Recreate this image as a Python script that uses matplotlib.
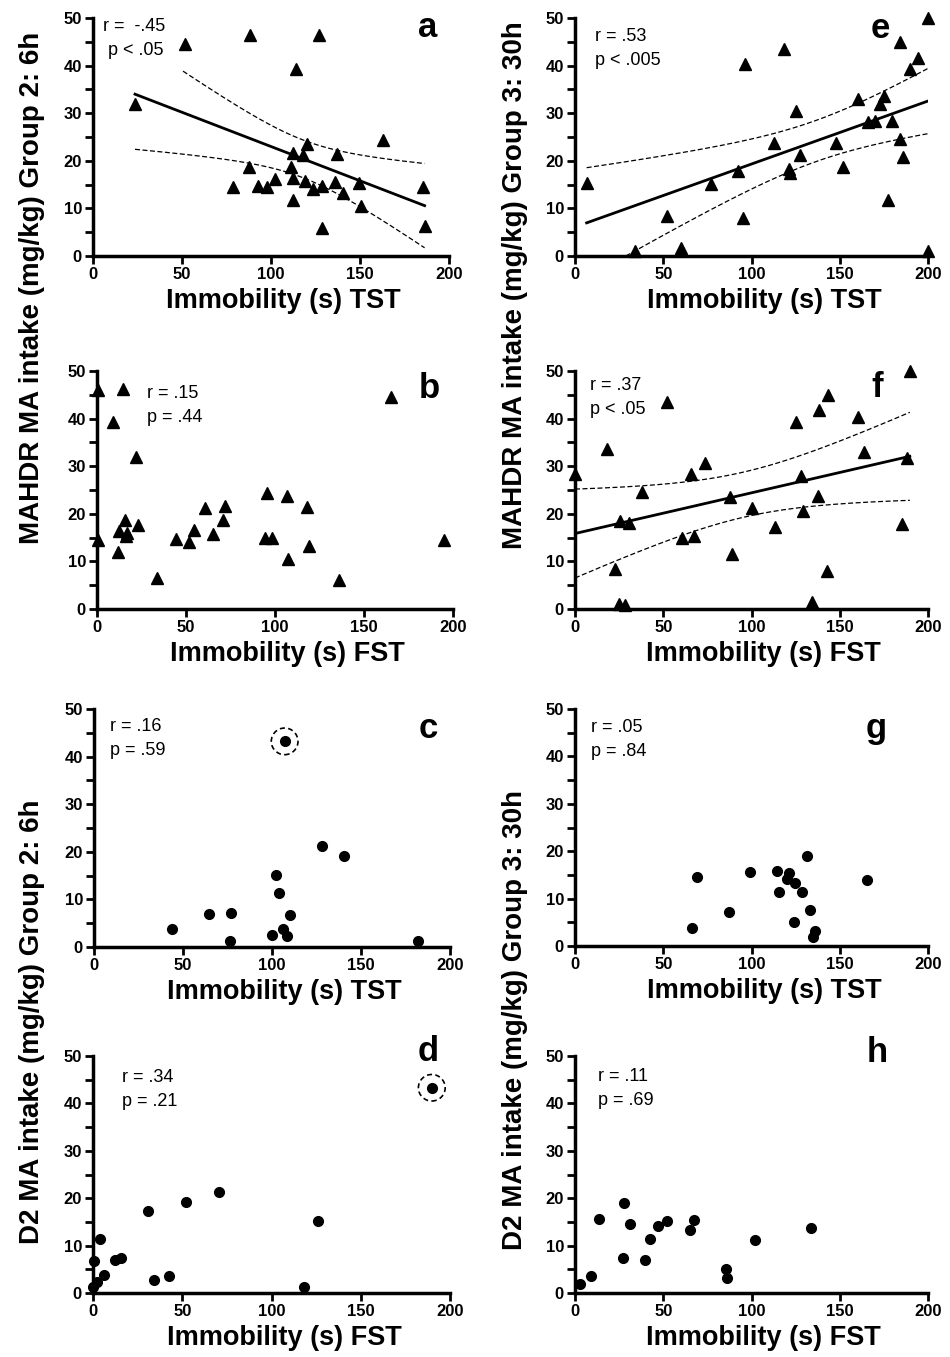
import numpy as np
import matplotlib
matplotlib.use("Agg")
import matplotlib.pyplot as plt
from matplotlib.patches import Ellipse
from matplotlib.ticker import MultipleLocator

plt.rcParams['font.family'] = ['Liberation Sans', 'DejaVu Sans']

# a: MAHDR MA intake, group 2 (6h) vs TST immobility
a_x = [23.6, 51.7, 88.2, 127, 113.9, 162.7, 120.4, 112.5, 118.2, 136.9, 87.5, 111.2, 78.5, 92.9,
       102.4, 97.6, 112.5, 119.1, 123.6, 128.5, 135.8, 140.3, 149.6, 112.2, 150.7, 128.7, 185.6, 186.3]
a_y = [31.9, 44.5, 46.4, 46.5, 39.3, 24.4, 23.5, 21.6, 21.2, 21.4, 18.6, 18.8, 14.6, 14.8,
       16.2, 14.4, 16.3, 15.8, 14.1, 14.8, 15.6, 13.2, 15.3, 11.8, 10.4, 5.9, 14.6, 6.4]

# b: MAHDR group 2 vs FST
b_x = [0.6, 14.6, 9.0, 22.1, 0.3, 12.4, 15.6, 11.8, 16.1, 16.9, 23.1, 33.8, 44.3, 51.8, 54.4,
       60.6, 65.3, 70.9, 71.9, 95.7, 94.4, 98.1, 106.9, 107.1, 117.8, 119.1, 136.2, 165.3, 194.7]
b_y = [46.1, 46.3, 39.3, 32.0, 14.4, 16.3, 18.6, 11.9, 15.3, 16.0, 17.7, 6.5, 14.7, 14.0, 16.5,
       21.2, 15.8, 18.8, 21.7, 24.4, 14.9, 14.9, 23.7, 10.5, 21.4, 13.2, 6.0, 44.6, 14.6]

# e: MAHDR group 3 (30h) vs TST
e_x = [6.6, 52, 60.2, 34, 77.2, 92.4, 95, 96.3, 118.6, 112.7, 125.4, 127.5, 121.2, 121.8, 147.7,
       151.7, 160.3, 166.2, 169.8, 172.6, 175.3, 179.8, 177.5, 184.1, 186, 184.1, 189.8, 194.5, 200, 199.8]
e_y = [15.4, 8.5, 1.6, 1.1, 15.1, 17.9, 8.0, 40.3, 43.5, 23.7, 30.5, 21.3, 18.2, 17.4, 23.8,
       18.6, 33.0, 28.2, 28.4, 31.9, 33.7, 28.3, 11.8, 24.6, 20.7, 45.0, 39.3, 41.7, 50, 1.1]

# f: MAHDR group 3 vs FST
f_x = [0, 18.1, 52, 22.4, 24.9, 28.6, 25.6, 30.5, 37.9, 60.7, 67.7, 65.8, 73.8, 87.7, 89.2,
       100, 113.1, 125.2, 128, 129.3, 134.2, 137.8, 138.5, 143.4, 143, 160.4, 163.6, 185.4, 188.2, 189.7]
f_y = [28.4, 33.7, 43.5, 8.4, 1.1, 0.9, 18.5, 18.0, 24.6, 14.9, 15.3, 28.3, 30.6, 23.6, 11.5,
       21.3, 17.3, 39.3, 28.0, 20.6, 1.4, 23.8, 41.8, 44.9, 8.0, 40.4, 33.0, 17.8, 31.8, 49.9]

# c: D2 MA intake, group 2 vs TST (first point is the circled outlier)
c_x = [107.1, 44.1, 64.7, 77.2, 76.3, 100, 102.1, 103.7, 106.2, 108.6, 110.3, 128, 140.4, 181.9]
c_y = [43.2, 3.8, 6.9, 7.2, 1.3, 2.5, 15.1, 11.4, 3.7, 2.3, 6.7, 21.3, 19.2, 1.3]

# d: D2 group 2 vs FST (first point is the circled outlier)
d_x = [189.8, 0, 2.2, 0.4, 3.7, 6, 12.1, 15.8, 30.7, 34.4, 42.8, 52.1, 70.5, 118.3, 126.1]
d_y = [43.3, 1.3, 2.3, 6.8, 11.3, 3.7, 6.9, 7.3, 17.3, 2.8, 3.5, 19.2, 21.4, 1.3, 15.1]

# g: D2 group 3 vs TST
g_x = [66.5, 69.1, 87.5, 99.3, 114.4, 115.7, 119.9, 121.2, 124.7, 124.2, 128.5, 131.3, 133.3, 136, 134.6, 165.4]
g_y = [3.7, 14.6, 7.1, 15.6, 15.8, 11.3, 14.2, 15.3, 13.2, 5.1, 11.4, 19.0, 7.5, 3.2, 1.9, 13.9]

# h: D2 group 3 vs FST
h_x = [2.8, 9.3, 13.6, 27, 27.6, 30.9, 39.5, 42.5, 47.2, 52.4, 64.9, 67.5, 85.7, 86.1, 101.8, 133.5]
h_y = [1.8, 3.6, 15.7, 7.3, 18.9, 14.6, 7.0, 11.4, 14.1, 15.2, 13.2, 15.5, 5.1, 3.1, 11.1, 13.8]

stats = {
    'a': ["r =  -.45", " p < .05"], 'b': ["r = .15", "p = .44"],
    'c': ["r = .16", "p = .59"], 'd': ["r = .34", "p = .21"],
    'e': ["r = .53", "p < .005"], 'f': ["r = .37", "p < .05"],
    'g': ["r = .05", "p = .84"], 'h': ["r = .11", "p = .69"],
}

fig = plt.figure(figsize=(9.5, 13.57), dpi=100)


def add_ax(l, t, r, b):
    return fig.add_axes([l / 950, 1 - b / 1357, (r - l) / 950, (b - t) / 1357])


def draw(ax, x, y, marker, ms, letter, xlabel, tpos, lpos, fit=False, ring=False, upper_from=None):
    x = np.array(x)
    y = np.array(y)
    ax.plot(x, y, linestyle='none', marker=marker, ms=ms, color='black', clip_on=False, zorder=3)
    if fit:
        n = len(x)
        b1, b0 = np.polyfit(x, y, 1)
        xs = np.linspace(x.min(), x.max(), 200)
        res = y - (b0 + b1 * x)
        s = np.sqrt(np.sum(res ** 2) / (n - 2))
        se = s * np.sqrt(1 / n + (xs - x.mean()) ** 2 / np.sum((x - x.mean()) ** 2))
        yl = b0 + b1 * xs
        up = yl + 2.05 * se
        if upper_from is not None:
            up = np.where(xs >= upper_from, up, np.nan)
        ax.plot(xs, yl, color='black', lw=2)
        ax.plot(xs, up, color='black', lw=0.9, ls=(0, (4, 2)))
        ax.plot(xs, yl - 2.05 * se, color='black', lw=0.9, ls=(0, (4, 2)))
    if ring:
        ax.add_patch(Ellipse((x[0], y[0]), 15, 5.6, fill=False, ec='black', lw=1.2,
                             ls=(0, (3, 2)), clip_on=False))
    ax.set_xlim(0, 200)
    ax.set_ylim(0, 50)
    ax.xaxis.set_major_locator(MultipleLocator(50))
    ax.yaxis.set_major_locator(MultipleLocator(10))
    ax.yaxis.set_minor_locator(MultipleLocator(5))
    for side in ['top', 'right']:
        ax.spines[side].set_visible(False)
    for side in ['left', 'bottom']:
        ax.spines[side].set_linewidth(2.5)
    ax.tick_params(which='both', direction='out', length=6, width=2, labelsize=12, pad=2)
    for lab in ax.get_xticklabels() + ax.get_yticklabels():
        lab.set_fontweight('bold')
    ax.set_xlabel(xlabel, fontsize=19.5, fontweight='bold', labelpad=4, x=0.535)
    t1, t2 = stats[letter]
    ax.text(tpos[0], tpos[1], t1, transform=ax.transAxes, fontsize=13, va='top', ha='left')
    ax.text(tpos[0], tpos[1] - 0.1, t2, transform=ax.transAxes, fontsize=13, va='top', ha='left')
    ax.text(lpos[0], lpos[1], letter, transform=ax.transAxes, fontsize=25, fontweight='bold',
            ha='center', va='baseline')


ax = add_ax(93, 18, 449, 256)
draw(ax, a_x, a_y, '^', 8, 'a', 'Immobility (s) TST', (0.028, 1.0), (0.94, 0.921),
     fit=True, upper_from=50)
ax = add_ax(97, 371, 453, 609)
draw(ax, b_x, b_y, '^', 8, 'b', 'Immobility (s) FST', (0.14, 0.94), (0.933, 0.887))
ax = add_ax(94, 709, 450, 947)
draw(ax, c_x, c_y, 'o', 7, 'c', 'Immobility (s) TST', (0.045, 0.962), (0.938, 0.878), ring=True)
ax = add_ax(93, 1056, 450, 1293)
draw(ax, d_x, d_y, 'o', 7, 'd', 'Immobility (s) FST', (0.08, 0.945), (0.938, 0.98), ring=True)

ax = add_ax(575, 18, 928, 256)
draw(ax, e_x, e_y, '^', 8, 'e', 'Immobility (s) TST', (0.057, 0.958), (0.864, 0.916), fit=True)
ax = add_ax(575, 371, 928, 609)
draw(ax, f_x, f_y, '^', 8, 'f', 'Immobility (s) FST', (0.042, 0.975), (0.855, 0.892), fit=True)
ax = add_ax(575, 709, 928, 946)
draw(ax, g_x, g_y, 'o', 7, 'g', 'Immobility (s) TST', (0.044, 0.958), (0.853, 0.878))
ax = add_ax(575, 1056, 928, 1293)
draw(ax, h_x, h_y, 'o', 7, 'h', 'Immobility (s) FST', (0.065, 0.949), (0.855, 0.976))

fig.text(32 / 950, 1 - 288 / 1357, 'MAHDR MA intake (mg/kg) Group 2: 6h', rotation=90,
         ha='center', va='center', fontsize=20, fontweight='bold')
fig.text(515 / 950, 1 - 285 / 1357, 'MAHDR MA intake (mg/kg) Group 3: 30h', rotation=90,
         ha='center', va='center', fontsize=20, fontweight='bold')
fig.text(32 / 950, 1 - 1022 / 1357, 'D2 MA intake (mg/kg) Group 2: 6h', rotation=90,
         ha='center', va='center', fontsize=20, fontweight='bold')
fig.text(515 / 950, 1 - 1020 / 1357, 'D2 MA intake (mg/kg) Group 3: 30h', rotation=90,
         ha='center', va='center', fontsize=20, fontweight='bold')

fig.savefig('out.png', dpi=100)
